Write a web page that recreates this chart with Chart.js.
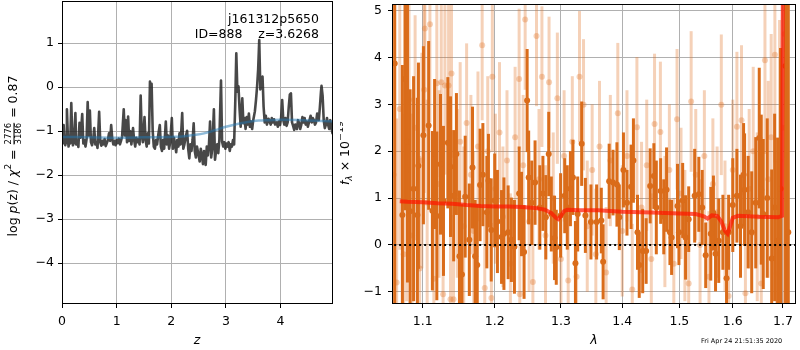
<!DOCTYPE html>
<html>
<head>
<meta charset="utf-8">
<script src="https://cdn.jsdelivr.net/npm/chart.js@4.4.1/dist/chart.umd.min.js"></script>
<style>
  html, body { margin: 0; padding: 0; background: #fff; }
  #wrap { position: relative; width: 800px; height: 350px; }
  .panel { position: absolute; top: 0; height: 350px; }
</style>
</head>
<body>
<div id="wrap">
  <div class="panel" style="left:0;width:340px"><canvas id="pzChart"></canvas></div>
  <div class="panel" style="left:340px;width:460px"><canvas id="specChart"></canvas></div>
</div>
<script>
/* ==============================
   P(Z) PANEL DATA
============================== */

const zGrid = [
  0.00, 0.01, 0.03, 0.05, 0.06, 0.08, 0.09, 0.11, 0.12, 0.14, 0.15, 0.17, 0.19, 0.20, 0.22, 0.245, 0.26, 0.28, 0.30, 0.32,
  0.34, 0.37, 0.39, 0.41, 0.43, 0.45, 0.47, 0.49, 0.51, 0.53, 0.55, 0.57, 0.59, 0.61, 0.63, 0.65, 0.68, 0.70, 0.72, 0.74,
  0.76, 0.78, 0.80, 0.82, 0.84, 0.86, 0.88, 0.90, 0.92, 0.94, 0.96, 0.98, 1.00, 1.02, 1.04, 1.06, 1.08, 1.10, 1.13, 1.15,
  1.17, 1.19, 1.21, 1.23, 1.25, 1.27, 1.30, 1.32, 1.34, 1.36, 1.38, 1.40, 1.42, 1.44, 1.46, 1.48, 1.51, 1.53, 1.55, 1.57,
  1.59, 1.61, 1.63, 1.64, 1.66, 1.68, 1.70, 1.72, 1.74, 1.76, 1.79, 1.81, 1.83, 1.85, 1.87, 1.90, 1.92, 1.94, 1.96, 1.98,
  2.01, 2.03, 2.05, 2.07, 2.09, 2.11, 2.13, 2.15, 2.17, 2.20, 2.22, 2.24, 2.27, 2.29, 2.31, 2.33, 2.35, 2.37, 2.39, 2.41,
  2.43, 2.45, 2.47, 2.50, 2.52, 2.54, 2.56, 2.58, 2.60, 2.63, 2.65, 2.67, 2.69, 2.71, 2.73, 2.75, 2.78, 2.80, 2.82, 2.84,
  2.86, 2.88, 2.91, 2.93, 2.95, 2.97, 2.99, 3.01, 3.03, 3.05, 3.07, 3.09, 3.11, 3.13, 3.15, 3.17, 3.19, 3.21, 3.23, 3.25,
  3.27, 3.30, 3.32, 3.34, 3.36, 3.38, 3.40, 3.42, 3.44, 3.46, 3.48, 3.50, 3.53, 3.55, 3.57, 3.59, 3.61, 3.63, 3.65, 3.67,
  3.69, 3.71, 3.73, 3.75, 3.78, 3.80, 3.82, 3.84, 3.86, 3.88, 3.90, 3.93, 3.95, 3.97, 3.99, 4.01, 4.03, 4.05, 4.07, 4.09,
  4.11, 4.13, 4.15, 4.17, 4.19, 4.21, 4.23, 4.25, 4.27, 4.30, 4.32, 4.34, 4.36, 4.38, 4.40, 4.42, 4.44, 4.46, 4.48, 4.50,
  4.52, 4.55, 4.57, 4.59, 4.61, 4.63, 4.65, 4.67, 4.70, 4.72, 4.74, 4.75, 4.77, 4.79, 4.81, 4.83, 4.85, 4.87, 4.89, 4.91,
  4.93, 4.95, 4.97
];

const logPz = [
  -1.15, -1.28, -0.86, -1.25, -1.32, -1.20, -0.50, -1.22, -1.35, -1.18, -1.28, -0.36, -1.20, -1.32, -1.25, -0.59, -1.30, -1.22, -1.36, -0.81,
  -1.15, -0.61, -1.28, -1.20, -1.35, -1.18, -0.34, -1.10, -0.53, -1.25, -1.32, -1.20, -0.93, -1.30, -1.25, -1.38, -0.56, -1.25, -1.33, -1.22,
  -1.30, -1.18, -1.34, -1.27, -1.20, -1.05, -1.22, -0.86, -1.18, -1.30, -1.22, -1.32, -1.20, -1.27, -1.17, -1.30, -1.22, -1.12, -0.50, -1.10,
  -0.75, -1.25, -0.67, -1.22, -1.00, -1.30, -0.93, -1.20, -1.35, -1.15, -1.25, -1.18, -1.30, -0.19, -1.10, -1.25, -0.68, -1.20, -1.35, -1.05,
  -1.28, 0.13, -0.20, 0.08, -1.00, -1.35, -1.40, -1.20, -1.30, -1.10, -0.86, -1.35, -1.45, -1.20, -1.40, -0.78, -1.30, -1.10, -1.40, -1.25,
  -0.70, -1.40, -1.15, -1.30, -1.48, -1.20, -1.35, -1.05, -1.30, -0.59, -1.40, -1.30, -1.10, -0.99, -1.40, -1.62, -1.30, -1.45, -1.20, -0.82,
  -1.45, -1.60, -1.35, -1.55, -1.69, -1.40, -1.55, -1.75, -1.45, -1.77, -1.35, -1.55, -1.30, -0.78, -1.60, -1.40, -0.50, -1.65, -1.45, -1.30,
  -1.50, -1.20, 0.15, -1.24, -1.35, -1.25, -1.40, -1.28, -1.35, -1.25, -1.45, -1.30, -1.35, -1.20, -1.30, -0.40, 0.77, -0.10, 0.02, -0.50,
  -0.90, -0.25, -0.82, -0.70, -0.95, -0.68, -0.85, -0.60, -0.90, -0.78, -0.95, -0.75, -0.55, -0.30, 0.00, 0.40, 1.07, -0.05, 0.10, 0.24,
  -0.45, -0.80, -0.65, -0.85, -0.72, -0.78, -0.85, -0.70, -0.80, -0.73, -0.85, -0.80, -0.90, -0.78, -0.86, -0.70, -0.29, -0.75, -0.85, -0.70,
  -0.88, -0.80, -0.45, -0.17, -0.14, -0.80, -0.88, -0.97, -0.85, -0.95, -0.75, -0.82, -0.95, -0.85, -0.68, -0.80, -0.70, -0.85, -0.78, -0.90,
  -0.80, -0.65, -0.80, -0.70, -0.75, -0.85, -0.80, -0.60, -0.75, -0.45, -0.10, 0.03, -0.20, -0.75, -0.93, -0.85, -0.70, -0.85, -0.95, -0.75,
  -0.90, -1.05, -0.95
];

// smooth prior curve drawn over log p(z)
const zPrior = [0.0, 0.5, 1.0, 1.5, 2.0, 2.2, 2.4, 2.6, 2.8, 3.0, 3.2, 3.4, 3.6, 3.8, 4.0, 4.4, 4.8, 4.97];
const logPrior = [-1.13, -1.14, -1.15, -1.14, -1.13, -1.12, -1.09, -1.05, -0.98, -0.90, -0.84, -0.79, -0.76, -0.75, -0.74, -0.75, -0.77, -0.78];

const zTicks = [0, 1, 2, 3, 4];
const pzTicks = [-4, -3, -2, -1, 0, 1];

/* ==============================
   SPECTRUM PANEL DATA
============================== */

const lamA = [
  1.0635, 1.0734, 1.0768, 1.0800, 1.0834, 1.0880, 1.0930, 1.0944, 1.1010, 1.1080, 1.1130, 1.1160, 1.1190, 1.1240, 1.1280, 1.1340,
  1.1376, 1.1420, 1.1458, 1.1500, 1.1535, 1.1580, 1.1638, 1.1683, 1.1720, 1.1750, 1.1790, 1.1830, 1.1887, 1.1910, 1.1950, 1.2000,
  1.2040, 1.2100, 1.2135, 1.2197, 1.2245, 1.2290, 1.2360, 1.2396, 1.2434, 1.2480, 1.2503, 1.2550, 1.2600, 1.2673, 1.2720, 1.2765,
  1.2810, 1.2850, 1.2900, 1.2927, 1.2995, 1.3060, 1.3100, 1.3150, 1.3190, 1.3230, 1.3266, 1.3330, 1.3390, 1.3480, 1.3573, 1.3650,
  1.3680, 1.3780, 1.3845, 1.3910, 1.3950, 1.4020, 1.4080, 1.4150, 1.4190, 1.4260, 1.4290, 1.4350, 1.4410, 1.4480, 1.4545, 1.4588,
  1.4665, 1.4720, 1.4770, 1.4830, 1.4860, 1.4966, 1.4992, 1.5060, 1.5113, 1.5170, 1.5280, 1.5357, 1.5420, 1.5485, 1.5580, 1.5630,
  1.5670, 1.5731, 1.5810, 1.5880, 1.5920, 1.6000, 1.6080, 1.6150, 1.6210, 1.6230, 1.6300, 1.6370, 1.6450, 1.6520, 1.6560, 1.6600,
  1.6680, 1.6770, 1.6830, 1.6890, 1.6950, 1.7053, 1.7110
];
const fluxA = [
  3.87, 0.64, 3.54, 2.20, 0.72, 1.20, 0.64, 1.69, 2.34, 2.55, 0.73, 1.94, 0.62, 1.72, 0.94, 2.18,
  1.67, 1.05, 1.94, -0.24, -0.63, 1.03, 0.11, 1.65, -0.24, -0.43, 1.28, 1.50, 0.70, 1.37, 0.32, 0.95,
  0.50, 0.17, 0.24, 0.27, 0.11, -0.04, 1.10, 0.66, -0.15, 3.08, 1.44, 0.90, 1.33, 0.80, 1.10, 0.59,
  1.94, 0.66, 0.15, -0.05, 0.63, 1.05, 0.80, 1.20, 1.44, -0.39, 0.66, 2.16, 0.63, 0.49, 0.49, 0.52,
  -0.36, 1.36, 1.33, 1.29, 0.59, 1.60, 0.90, 1.24, 1.80, 0.27, -0.43, -0.13, -0.13, 1.26, 1.47, 0.80,
  1.15, 0.60, 1.18, 0.27, 0.16, 0.83, 0.27, 0.95, 0.16, 0.55, 1.05, 1.08, 0.80, -0.22, 0.24, 0.68,
  -0.19, 0.09, 0.27, -0.71, 0.27, 0.85, 1.05, 0.40, 1.50, 1.18, 0.70, 0.27, 0.90, 2.28, 1.18, 0.66,
  1.00, -0.29, 0.80, 0.09, 1.20, 3.82, 0.27
];
const errA = [
  9.0, 3.2, 2.8, 3.0, 2.6, 2.4, 2.5, 2.2, 1.9, 1.8, 1.7, 1.6, 1.8, 1.5, 1.6, 1.4,
  1.5, 1.4, 1.3, 1.4, 1.5, 1.3, 1.2, 1.3, 1.2, 1.3, 1.2, 1.1, 1.2, 1.0, 1.1, 1.0,
  1.1, 1.0, 1.2, 1.0, 0.9, 1.0, 1.0, 0.9, 1.0, 1.1, 1.0, 0.9, 0.9, 0.9, 0.8, 0.9,
  0.9, 0.8, 0.9, 0.8, 0.9, 0.8, 0.9, 0.8, 0.8, 0.9, 0.8, 0.9, 0.8, 0.8, 0.8, 0.7,
  0.8, 0.8, 0.7, 0.9, 0.7, 0.8, 0.7, 0.9, 0.9, 0.8, 0.7, 0.9, 0.7, 0.8, 0.7, 1.0,
  0.7, 0.8, 0.9, 0.7, 0.8, 0.9, 0.7, 0.8, 0.9, 0.7, 1.0, 0.8, 0.8, 0.7, 1.0, 0.8,
  0.8, 0.9, 0.8, 1.0, 0.8, 1.0, 1.0, 1.1, 1.1, 1.2, 1.2, 1.3, 1.4, 1.5, 1.6, 1.6,
  1.7, 1.9, 2.0, 2.2, 3.0, 9.0, 9.0
];

const lamB = [
  1.0620, 1.0660, 1.0700, 1.0750, 1.0790, 1.0820, 1.0860, 1.0900, 1.0960, 1.0990, 1.1020, 1.1030, 1.1060, 1.1097, 1.1150, 1.1190,
  1.1220, 1.1250, 1.1275, 1.1300, 1.1350, 1.1376, 1.1390, 1.1418, 1.1470, 1.1510, 1.1560, 1.1600, 1.1660, 1.1700, 1.1760, 1.1820,
  1.1857, 1.1900, 1.1953, 1.1966, 1.2010, 1.2070, 1.2120, 1.2180, 1.2230, 1.2300, 1.2360, 1.2370, 1.2420, 1.2450, 1.2510, 1.2567,
  1.2622, 1.2660, 1.2705, 1.2760, 1.2815, 1.2880, 1.2944, 1.3000, 1.3050, 1.3115, 1.3180, 1.3248, 1.3295, 1.3360, 1.3420, 1.3500,
  1.3560, 1.3620, 1.3730, 1.3800, 1.3925, 1.4000, 1.4080, 1.4170, 1.4250, 1.4330, 1.4420, 1.4500, 1.4557, 1.4660, 1.4740, 1.4820,
  1.4900, 1.4958, 1.5030, 1.5100, 1.5170, 1.5215, 1.5300, 1.5380, 1.5460, 1.5546, 1.5620, 1.5700, 1.5780, 1.5850, 1.5920, 1.6000,
  1.6080, 1.6170, 1.6246, 1.6320, 1.6400, 1.6480, 1.6560, 1.6634, 1.6700, 1.6760, 1.6835, 1.6870, 1.6930, 1.6990, 1.7035
];
const fluxB = [
  1.50, -0.80, 2.90, -0.20, 1.60, 3.10, 0.20, 2.50, -0.50, 1.80, 3.31, 4.62, 0.90, 4.71, -0.72, 3.45,
  1.30, 3.47, -1.05, 3.40, 3.40, -1.16, 3.66, -1.16, 1.10, 2.20, 0.40, 2.60, 1.50, 0.30, 2.10, 4.26,
  -0.92, 2.00, -1.13, 3.59, 1.20, 2.40, 0.60, 1.80, -0.40, 2.30, 3.54, -1.05, 1.70, 4.81, 0.50, -0.79,
  4.46, 1.40, 3.59, 0.20, 3.47, 1.00, 3.13, -0.30, 1.90, -0.76, 2.20, -0.68, 3.59, 2.99, 0.40, 1.60,
  -0.20, 2.10, -0.59, 1.80, 2.81, 0.30, 1.90, -0.95, 2.51, 0.80, 1.70, -0.30, 2.58, 2.41, 0.50, 1.60,
  -0.40, 2.68, 1.10, 0.20, -0.82, 3.06, 1.50, 0.00, 1.90, -0.68, 1.30, 0.70, 2.99, 0.40, -1.09, 1.60,
  2.52, 2.66, -1.03, 1.20, 2.00, 0.60, -0.82, 3.94, 1.40, 2.30, 4.06, -0.61, 1.80, 2.50, 4.50
];
const errB = [
  9.0, 3.5, 3.0, 3.0, 2.8, 2.6, 2.6, 2.4, 2.4, 2.3, 2.2, 2.2, 2.2, 2.1, 2.0, 2.0,
  2.0, 1.9, 1.9, 1.9, 1.8, 1.8, 1.8, 1.8, 1.8, 1.7, 1.7, 1.7, 1.7, 1.7, 1.6, 1.6,
  1.6, 1.6, 1.6, 1.6, 1.6, 1.5, 1.5, 1.5, 1.5, 1.5, 1.5, 1.5, 1.5, 1.5, 1.5, 1.5,
  1.5, 1.5, 1.5, 1.5, 1.4, 1.4, 1.4, 1.4, 1.4, 1.4, 1.4, 1.4, 1.4, 1.4, 1.4, 1.4,
  1.4, 1.4, 1.4, 1.4, 1.5, 1.4, 1.4, 1.4, 1.5, 1.4, 1.4, 1.4, 1.5, 1.5, 1.4, 1.4,
  1.4, 1.5, 1.4, 1.4, 1.4, 1.5, 1.4, 1.4, 1.4, 1.4, 1.4, 1.4, 1.5, 1.4, 1.5, 1.5,
  1.6, 1.6, 1.6, 1.7, 1.8, 1.8, 1.9, 2.0, 2.1, 2.2, 2.3, 2.4, 3.0, 6.0, 9.0
];

// best-fit template
const lamModel = [
  1.070, 1.080, 1.100, 1.120, 1.140, 1.160, 1.180, 1.200, 1.220, 1.240, 1.260, 1.275, 1.285, 1.292, 1.296, 1.300,
  1.305, 1.310, 1.330, 1.360, 1.400, 1.450, 1.500, 1.530, 1.545, 1.552, 1.560, 1.570, 1.578, 1.585, 1.590, 1.595,
  1.600, 1.610, 1.650, 1.690, 1.698, 1.700
];
const fluxModel = [
  0.93, 0.92, 0.91, 0.89, 0.88, 0.85, 0.83, 0.82, 0.82, 0.81, 0.79, 0.75, 0.68, 0.58, 0.55, 0.62,
  0.72, 0.75, 0.74, 0.74, 0.71, 0.69, 0.67, 0.66, 0.61, 0.56, 0.63, 0.62, 0.50, 0.30, 0.24, 0.40,
  0.58, 0.62, 0.60, 0.59, 0.62, 6.00
];

const lamTicks = [1.1, 1.2, 1.3, 1.4, 1.5, 1.6, 1.7];
const fluxTicks = [-1, 0, 1, 2, 3, 4, 5];

/* ==============================
   SHARED STYLE
============================== */

Chart.defaults.font.family = "'DejaVu Sans'";
Chart.defaults.font.size = 12.5;
Chart.defaults.color = "#000";

const FONT = "12.5px 'DejaVu Sans'";
const ITAL = "italic 12.5px 'DejaVu Sans'";
const ORANGE = "rgb(218,108,26)";

const minus = v => String(v).replace("-", "\u2212");

function axis(min, max, ticks, size, fmt, pad, type) {
    return {
        type: type || "linear",
        min: min,
        max: max,
        afterBuildTicks: s => { s.ticks = ticks.map(v => ({ value: v })); },
        afterFit: s => {
            if (s.isHorizontal()) s.height = size; else s.width = size;
            // keep tick labels from pushing the plot area in
            s.paddingTop = s.paddingBottom = s.paddingLeft = s.paddingRight = 0;
        },
        grid: { color: "#b0b0b0", lineWidth: 1, tickColor: "#000", tickLength: 4 },
        border: { display: false },
        ticks: { padding: pad, autoSkip: false, maxRotation: 0, callback: fmt }
    };
}

// black frame round the plot area
const frame = {
    id: "frame",
    afterDraw(chart) {
        const { ctx, chartArea: a } = chart;
        ctx.save();
        ctx.strokeStyle = "#000";
        ctx.lineWidth = 1;
        ctx.strokeRect(a.left + 0.5, a.top + 0.5, a.right - a.left - 1, a.bottom - a.top - 1);
        ctx.restore();
    }
};

// write a row of text pieces centred on 0
function drawPieces(ctx, pieces) {
    let w = 0;
    pieces.forEach(p => {
        ctx.font = p.font;
        if (p.frac) {
            p.w = Math.max(ctx.measureText(p.frac[0]).width, ctx.measureText(p.frac[1]).width) + 2;
        } else {
            p.w = ctx.measureText(p.t).width;
        }
        w += p.w;
    });
    let x = -w / 2;
    ctx.textBaseline = "middle";
    pieces.forEach(p => {
        ctx.font = p.font;
        if (p.frac) {
            ctx.textAlign = "center";
            ctx.fillText(p.frac[0], x + p.w / 2, -5);
            ctx.fillText(p.frac[1], x + p.w / 2, 5);
            ctx.fillRect(x + 1, -0.5, p.w - 2, 1);
        } else {
            ctx.textAlign = "left";
            ctx.fillText(p.t, x, p.dy || 0);
        }
        x += p.w;
    });
}

/* ==============================
   LEFT PANEL: log p(z)
============================== */

const pzLabels = {
    id: "pzLabels",
    afterDraw(chart) {
        const ctx = chart.ctx;
        ctx.save();
        ctx.fillStyle = "#000";

        ctx.textAlign = "right";
        ctx.textBaseline = "middle";
        ctx.font = FONT;
        ctx.fillText("j161312p5650", 319, 20);
        ctx.fillText("ID=888    z=3.6268", 319, 35);

        ctx.textAlign = "center";
        ctx.font = ITAL;
        ctx.fillText("z", 197, 341);

        ctx.translate(14, 156);
        ctx.rotate(-Math.PI / 2);
        drawPieces(ctx, [
            { t: "log ", font: FONT },
            { t: "p", font: ITAL },
            { t: "(z) / ", font: FONT },
            { t: "\u03c7", font: ITAL },
            { t: "2", font: "9px 'DejaVu Sans'", dy: -5 },
            { t: " = ", font: FONT },
            { frac: ["2776", "3186"], font: "8.5px 'DejaVu Sans'" },
            { t: " = 0.87", font: FONT }
        ]);
        ctx.restore();
    }
};

new Chart(document.getElementById("pzChart"), {
    type: "scatter",
    data: {
        datasets: [
            {
                data: zPrior.map((z, i) => ({ x: z, y: logPrior[i] })),
                showLine: true,
                borderColor: "rgba(31,119,180,0.5)",
                borderWidth: 2.5,
                pointRadius: 0,
                tension: 0.4,
                order: 1
            },
            {
                data: zGrid.map((z, i) => ({ x: z, y: logPz[i] })),
                showLine: true,
                borderColor: "rgba(40,40,40,0.85)",
                borderWidth: 2.6,
                borderJoinStyle: "round",
                borderCapStyle: "round",
                pointRadius: 0,
                order: 2
            }
        ]
    },
    options: {
        responsive: true,
        maintainAspectRatio: false,
        animation: false,
        layout: { padding: { left: 0, right: 7, top: 1, bottom: 0 } },
        plugins: { legend: { display: false }, tooltip: { enabled: false } },
        scales: {
            x: axis(0, 4.96, zTicks, 46, v => minus(v), 6),
            y: axis(-4.93, 1.96, pzTicks, 62, v => minus(v), 4)
        }
    },
    plugins: [frame, pzLabels]
});

/* ==============================
   RIGHT PANEL: SPECTRUM
============================== */

// vertical error bars, drawn just under each dataset's points
const errorBars = {
    id: "errorBars",
    beforeDatasetDraw(chart, args) {
        const ds = chart.data.datasets[args.index];
        if (!ds.errors) return;
        const { ctx, chartArea: a, scales } = chart;
        ctx.save();
        ctx.beginPath();
        ctx.rect(a.left, a.top, a.right - a.left, a.bottom - a.top);
        ctx.clip();
        ctx.strokeStyle = ds.barColor;
        ctx.lineWidth = ds.barWidth;
        ds.data.forEach((p, i) => {
            const px = scales.x.getPixelForValue(p.x);
            ctx.beginPath();
            ctx.moveTo(px, scales.y.getPixelForValue(p.y - ds.errors[i]));
            ctx.lineTo(px, scales.y.getPixelForValue(p.y + ds.errors[i]));
            ctx.stroke();
        });
        ctx.restore();
    }
};

const specLabels = {
    id: "specLabels",
    afterDraw(chart) {
        const ctx = chart.ctx;
        ctx.save();
        ctx.fillStyle = "#000";

        ctx.textAlign = "center";
        ctx.textBaseline = "middle";
        ctx.font = ITAL;
        ctx.fillText("\u03bb", 254, 341);

        ctx.textAlign = "left";
        ctx.font = "6.5px 'DejaVu Sans'";
        ctx.fillText("Fri Apr 24 21:51:35 2020", 361, 341);

        ctx.translate(6, 153);
        ctx.rotate(-Math.PI / 2);
        drawPieces(ctx, [
            { t: "f", font: ITAL },
            { t: "\u03bb", font: "italic 9px 'DejaVu Sans'", dy: 4 },
            { t: " \u00d7 10", font: FONT },
            { t: "\u221219", font: "9.5px 'DejaVu Sans'", dy: -5.5 }
        ]);
        ctx.restore();
    }
};

new Chart(document.getElementById("specChart"), {
    type: "scatter",
    data: {
        datasets: [
            {
                data: [{ x: 1.05, y: 0 }, { x: 1.74, y: 0 }],
                showLine: true,
                borderColor: "#000",
                borderWidth: 2,
                borderDash: [2, 3],
                pointRadius: 0,
                order: 1
            },
            {
                data: lamModel.map((l, i) => ({ x: l, y: fluxModel[i] })),
                showLine: true,
                borderColor: "rgba(255,20,0,0.7)",
                borderWidth: 4,
                pointRadius: 0,
                order: 2
            },
            {
                data: lamA.map((l, i) => ({ x: l, y: fluxA[i] })),
                errors: errA,
                barColor: ORANGE,
                barWidth: 3,
                pointRadius: 3,
                backgroundColor: ORANGE,
                borderWidth: 0,
                order: 3
            },
            {
                data: lamB.map((l, i) => ({ x: l, y: fluxB[i] })),
                errors: errB,
                barColor: "rgba(225,115,40,0.33)",
                barWidth: 3,
                pointRadius: 3,
                backgroundColor: "rgba(225,115,40,0.33)",
                borderWidth: 0,
                order: 4
            }
        ]
    },
    options: {
        responsive: true,
        maintainAspectRatio: false,
        animation: false,
        layout: { padding: { left: 0, right: 2, top: 1, bottom: 0 } },
        plugins: { legend: { display: false }, tooltip: { enabled: false } },
        scales: {
            x: axis(1.06, 1.727, lamTicks, 46, v => Number(v).toFixed(1), 6, "logarithmic"),
            y: axis(-1.26, 5.14, fluxTicks, 52, v => minus(v), 6)
        }
    },
    plugins: [frame, errorBars, specLabels]
});
</script>
</body>
</html>
